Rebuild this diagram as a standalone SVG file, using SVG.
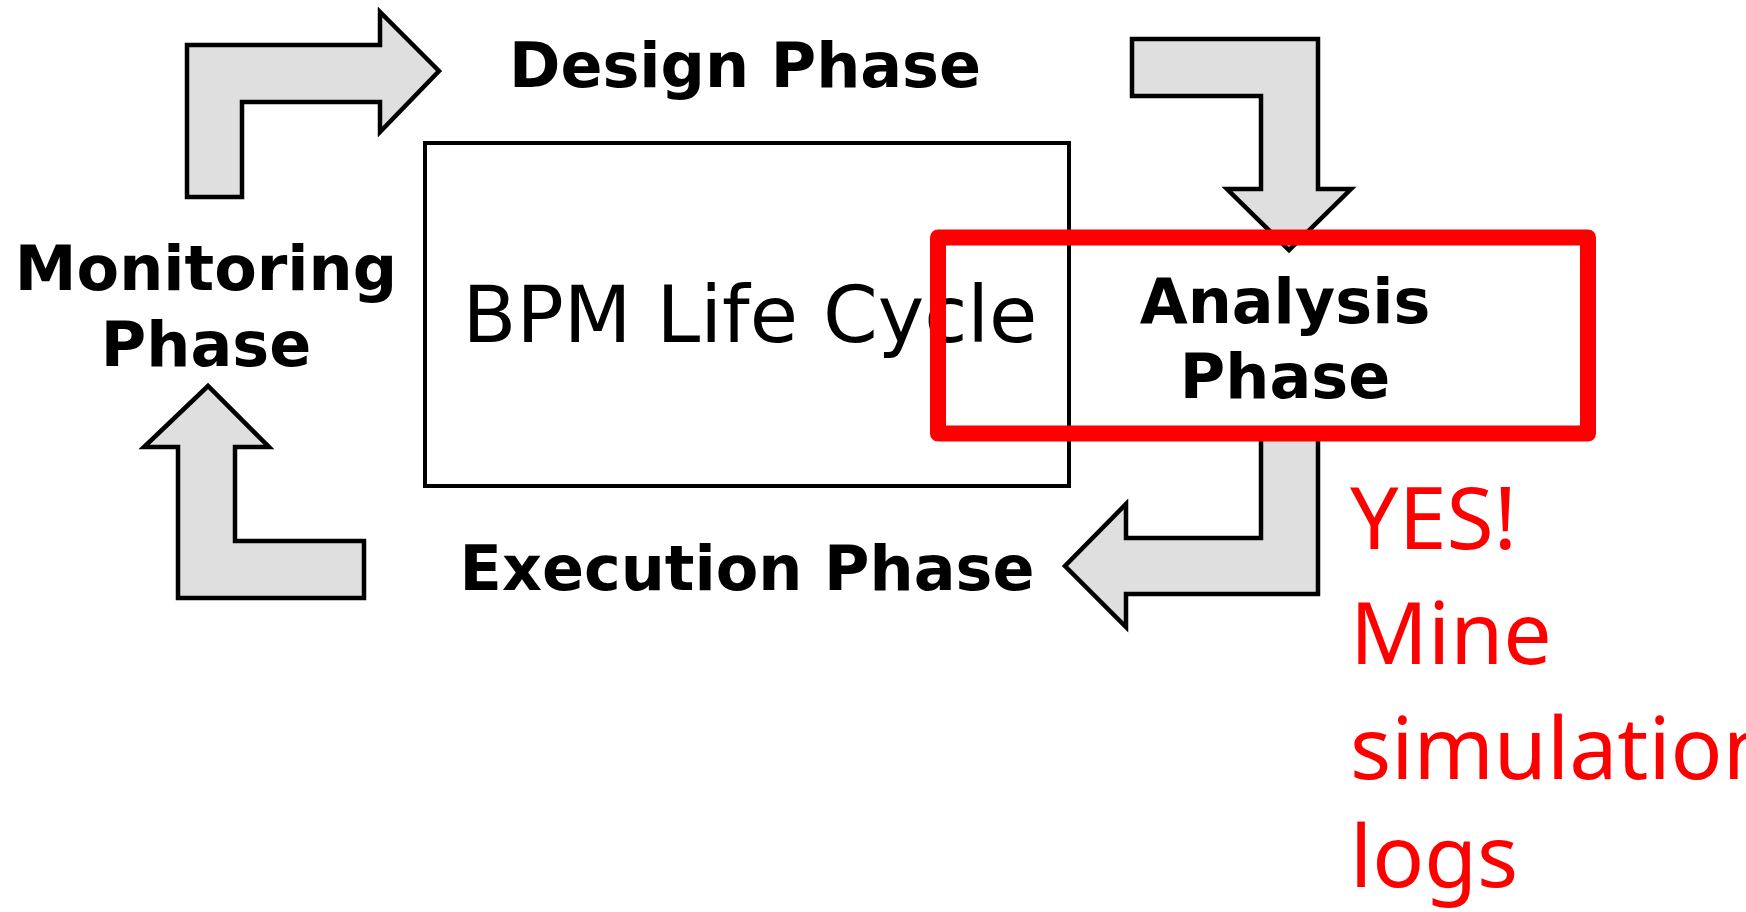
<svg xmlns="http://www.w3.org/2000/svg" width="1746" height="912" viewBox="0 0 1746 912">
<style>
.arrow{fill:#dfdfdf;stroke:#000;stroke-width:4.5;stroke-linejoin:miter}
.lbl{font-family:"DejaVu Sans",sans-serif;font-weight:bold;font-size:62px;fill:#000;text-anchor:middle}
.title{font-family:"DejaVu Sans",sans-serif;font-size:78.5px;fill:#000;text-anchor:middle}
.note{font-family:"Noto Sans",sans-serif;font-size:86px;fill:#ff0000}
</style>
<rect width="1746" height="912" fill="#fff"/>
<g id="connectors">
<path class="arrow" d="M187,197 L187,45 L380,45 L380,12 L439,71 L380,132 L380,102 L242,102 L242,197 Z"/>
<path class="arrow" d="M1132,39 L1318,39 L1318,189 L1351,189 L1289,250 L1227,189 L1261,189 L1261,96 L1132,96 Z"/>
<path class="arrow" d="M1318,436 L1318,594 L1126,594 L1126,627 L1065,566 L1126,504 L1126,538 L1261,538 L1261,436 Z"/>
<path class="arrow" d="M364,598 L178,598 L178,447 L144,447 L208,386 L269,447 L235,447 L235,541 L364,541 Z"/>
</g>
<g id="lifecycle">
<rect x="425" y="143" width="644" height="343" fill="none" stroke="#000" stroke-width="4"/>
<text class="title" x="750" y="342">BPM Life Cycle</text>
</g>
<g id="design">
<text class="lbl" x="745" y="87">Design Phase</text>
</g>
<g id="monitoring">
<text class="lbl" x="206" y="290">Monitoring</text>
<text class="lbl" x="206" y="366">Phase</text>
</g>
<g id="execution">
<text class="lbl" x="747" y="590">Execution Phase</text>
</g>
<g id="analysis">
<text class="lbl" x="1285" y="323">Analysis</text>
<text class="lbl" x="1285" y="398">Phase</text>
</g>
<g id="highlight">
<rect x="938" y="237.5" width="650" height="196" fill="none" stroke="#ff0000" stroke-width="16" stroke-linejoin="round"/>
</g>
<g id="note">
<text class="note" x="1350" y="549">YES!</text>
<text class="note" x="1350" y="664">Mine</text>
<text class="note" x="1350" y="779">simulation</text>
<text class="note" x="1350" y="887">logs</text>
</g>
</svg>
